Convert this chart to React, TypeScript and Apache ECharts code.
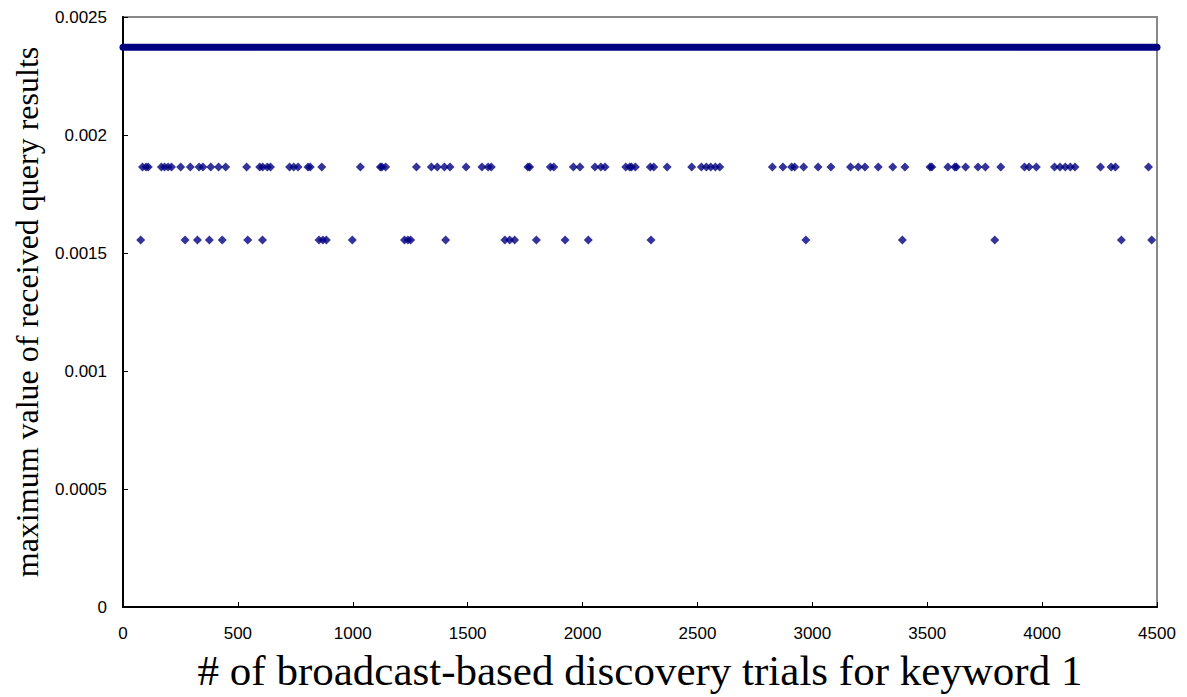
import React, { useEffect, useRef } from "react";
import * as echarts from "echarts";

const topLevel = 0.002372;
const topRowX = [0, 4500];

const midLevel = 0.001864;
const midX = [
  85, 100, 110, 167, 181, 196, 211, 251, 293, 331, 348, 382, 416, 447, 538,
  595, 608, 628, 642, 725, 743, 762, 805, 815, 865, 1033, 1120, 1127, 1143,
  1277, 1342, 1368, 1399, 1423, 1493, 1562, 1589, 1603, 1762, 1770, 1860,
  1875, 1960, 1989, 2054, 2080, 2098, 2188, 2205, 2213, 2230, 2295, 2310,
  2368, 2475, 2517, 2539, 2558, 2578, 2597, 2826, 2872, 2910, 2923, 2962,
  3025, 3081, 3166, 3200, 3229, 3287, 3350, 3403, 3512, 3520, 3590, 3620,
  3627, 3667, 3721, 3753, 3820, 3923, 3943, 3975, 4054, 4078, 4101, 4123,
  4143, 4254, 4300, 4319, 4463,
];

const lowLevel = 0.001555;
const lowX = [
  77, 270, 324, 376, 432, 543, 607, 853, 870, 885, 998, 1225, 1240, 1252,
  1404, 1662, 1683, 1704, 1799, 1924, 2025, 2298, 2972, 3392, 3794, 4345,
  4477,
];

const yTicks = [0, 0.0005, 0.001, 0.0015, 0.002, 0.0025];
const yTickLabels = ["0", "0.0005", "0.001", "0.0015", "0.002", "0.0025"];

const color = "#000080";

export default function App() {
  const ref = useRef<HTMLDivElement>(null);
  useEffect(() => {
    if (!ref.current) return;
    const chart = echarts.init(ref.current, null, { renderer: "svg" });
    const labelFont = "Liberation Sans";
    chart.setOption({
      animation: false,
      backgroundColor: "#ffffff",
      grid: {
        left: 123,
        right: 30,
        top: 17,
        bottom: 90,
        show: true,
        borderColor: "#888888",
        borderWidth: 2,
      },
      xAxis: {
        type: "value",
        min: 0,
        max: 4500,
        interval: 500,
        name: "# of broadcast-based discovery trials for keyword 1",
        nameLocation: "middle",
        nameGap: 42,
        nameTextStyle: {
          fontFamily: "Liberation Serif",
          fontSize: 43,
          color: "#000",
        },
        axisLine: { show: true, lineStyle: { color: "#000", width: 2 } },
        axisTick: { show: true, inside: true, length: 5, lineStyle: { color: "#000" } },
        axisLabel: {
          fontFamily: labelFont,
          fontSize: 17,
          color: "#000",
          margin: 18,
          formatter: (v: number) => String(v),
        },
        splitLine: { show: false },
      },
      yAxis: {
        type: "value",
        min: 0,
        max: 0.0025,
        interval: 0.0005,
        name: "maximum value of received query results",
        nameLocation: "middle",
        nameGap: 80,
        nameTextStyle: {
          fontFamily: "Liberation Serif",
          fontSize: 32,
          color: "#000",
        },
        axisLine: { show: true, lineStyle: { color: "#000", width: 2 } },
        axisTick: { show: true, inside: true, length: 5, lineStyle: { color: "#000" } },
        axisLabel: {
          fontFamily: labelFont,
          fontSize: 17,
          color: "#000",
          margin: 16,
          formatter: (v: number) => {
            const i = yTicks.findIndex((t) => Math.abs(t - v) < 1e-9);
            return i >= 0 ? yTickLabels[i] : String(v);
          },
        },
        splitLine: { show: false },
      },
      series: [
        {
          type: "line",
          data: topRowX.map((x) => [x, topLevel]),
          symbol: "none",
          lineStyle: { color, width: 7, cap: "round" },
          clip: false,
          z: 3,
        },
        {
          type: "scatter",
          data: midX.map((x) => [x, midLevel]),
          symbol: "diamond",
          symbolSize: 9,
          itemStyle: { color },
        },
        {
          type: "scatter",
          data: lowX.map((x) => [x, lowLevel]),
          symbol: "diamond",
          symbolSize: 9,
          itemStyle: { color },
        },
      ],
    });
    return () => chart.dispose();
  }, []);
  return (
    <div
      ref={ref}
      style={{ position: "absolute", left: 0, top: 0, width: 1187, height: 697 }}
    />
  );
}
